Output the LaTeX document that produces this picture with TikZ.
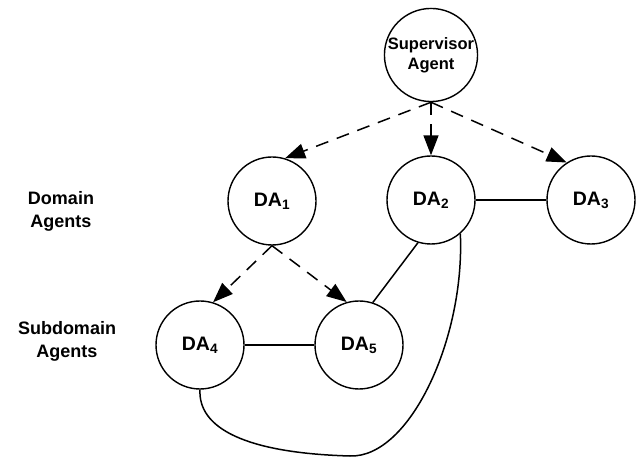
\documentclass[tikz,border=0pt]{standalone}
\usepackage{fontspec}
\setmainfont{Liberation Sans}
\usetikzlibrary{arrows.meta}
\begin{document}
\begin{tikzpicture}[x=1pt,y=1pt,
  agent/.style={circle,draw,line width=1.4pt,minimum size=88pt,inner sep=0pt,
    font=\fontsize{19.5}{22}\selectfont\bfseries},
  lbl/.style={align=center,font=\fontsize{18}{23}\selectfont\bfseries},
  dasharrow/.style={line width=1.5pt,dash pattern=on 13pt off 9pt,
    -{Triangle[length=20pt,width=15pt]}},
  link/.style={line width=1.5pt}]
\useasboundingbox (0,0) rectangle (640,458);
\node[agent,align=center,font=\fontsize{16.5}{20}\selectfont\bfseries] (sup) at (431,403) {Supervisor\\Agent};
\node[agent] (da1) at (272,257) {DA\textsubscript{1}};
\node[agent] (da2) at (431,258) {DA\textsubscript{2}};
\node[agent] (da3) at (591,258) {DA\textsubscript{3}};
\node[agent] (da4) at (200,113) {DA\textsubscript{4}};
\node[agent] (da5) at (359,113) {DA\textsubscript{5}};
\node[lbl] (ldom) at (61,247) {Domain\\Agents};
\node[lbl] (lsub) at (67,117) {Subdomain\\Agents};
\draw[dasharrow] (sup.south) -- (da1.73);
\draw[dasharrow] (sup.south) -- (da2.north);
\draw[dasharrow] (sup.south) -- (da3.123);
\draw[dasharrow] (da1.south) -- (da4.73);
\draw[dasharrow] (da1.south) -- (da5.106);
\draw[link] (da2) -- (da3);
\draw[link] (da4) -- (da5);
\draw[link] (da2.253) -- (da5.72);
\draw[link] (da4.south) .. controls (198,30) and (245,5) .. (350,2)
  .. controls (410,0) and (465,120) .. (da2.311);
\end{tikzpicture}
\end{document}
